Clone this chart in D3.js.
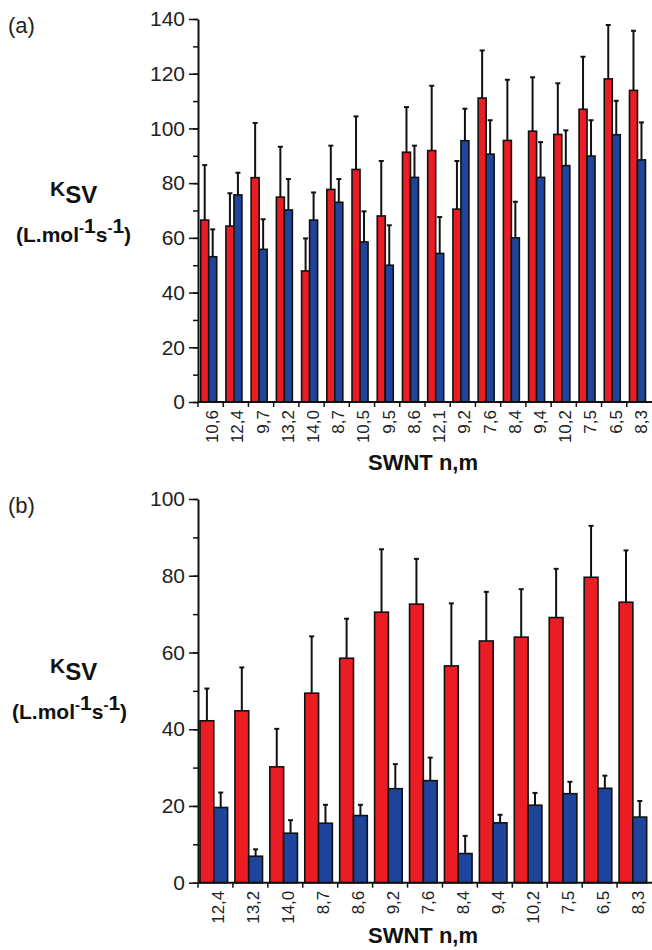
<!DOCTYPE html>
<html>
<head>
<meta charset="utf-8">
<script src="https://cdn.jsdelivr.net/npm/d3@7/dist/d3.min.js"></script>
<style>
  body { margin: 0; background: #fff; }
  svg { display: block; font-family: "Liberation Sans", Arial, sans-serif; }
  .lab { font-weight: bold; fill: #111; }
</style>
</head>
<body>
<div id="chart"></div>
<script>
/* Stern-Volmer constants per SWNT chirality, two panels */

// panel (a)
const catsA = ["10,6","12,4","9,7","13,2","14,0","8,7","10,5","9,5","8,6","12,1","9,2","7,6","8,4","9,4","10,2","7,5","6,5","8,3"];
const redA     = [66.5,64.3,82,74.9,47.9,77.7,85,68,91.3,91.9,70.5,111.1,95.6,99,97.8,107,118.1,113.9];
const redAErr  = [20.1,12,20,18.4,11.9,16,19.4,20.1,16.5,23.7,17.6,17.4,22.2,19.7,18.7,19.2,19.7,21.8];
const blueA    = [53.1,75.7,55.8,70.2,66.5,73,58.5,50,82.1,54.3,95.5,90.6,60,82.1,86.4,89.9,97.7,88.5];
const blueAErr = [10,8.1,11,11.3,10.1,8.5,11.2,14.6,11.6,13.3,11.7,12.4,13.2,12.9,12.9,13.1,12.4,13.7];

// panel (b)
const catsB = ["12,4","13,2","14,0","8,7","8,6","9,2","7,6","8,4","9,4","10,2","7,5","6,5","8,3"];
const redB     = [42.2,44.8,30.2,49.4,58.5,70.5,72.6,56.5,63,64,69.1,79.6,73.1];
const redBErr  = [8.4,11.3,9.9,14.8,10.3,16.4,11.8,16.3,12.8,12.5,12.7,13.4,13.5];
const blueB    = [19.6,6.9,12.9,15.5,17.5,24.5,26.6,7.6,15.6,20.2,23.2,24.6,17.1];
const blueBErr = [3.9,1.8,3.4,4.8,2.8,6.4,6,4.6,2.1,3.2,3.1,3.3,4.2];

const width = 652, height = 950;
const red = "#ea1c24", blue = "#1f449c";

const svg = d3.select("#chart").append("svg")
    .attr("width", width)
    .attr("height", height);

function panel(cfg) {
    const rows = cfg.cats.map((c, i) => ({
        cat: c,
        vals: [
            { key: "r", v: cfg.red[i], e: cfg.redErr[i] },
            { key: "b", v: cfg.blue[i], e: cfg.blueErr[i] }
        ]
    }));

    let x = d3.scaleBand()
        .domain(cfg.cats)
        .range([cfg.left, cfg.right])
        .padding(0);

    // red + blue side by side, shifted a bit to the left of the band
    let xi = d3.scaleBand()
        .domain(["r", "b"])
        .range([cfg.barOff, cfg.barOff + cfg.barW * 2]);

    let y = d3.scaleLinear()
        .domain([0, cfg.max])
        .range([cfg.bottom, cfg.top]);

    const g = svg.append("g");

    let grp = g.selectAll(".grp")
        .data(rows)
        .join("g")
        .attr("class", "grp")
        .attr("transform", d => `translate(${x(d.cat)},0)`);

    // error bars (upper half only)
    grp.selectAll(".err")
        .data(d => d.vals)
        .join("line")
        .attr("x1", d => xi(d.key) + xi.bandwidth() / 2)
        .attr("x2", d => xi(d.key) + xi.bandwidth() / 2)
        .attr("y1", d => y(d.v))
        .attr("y2", d => y(d.v + d.e))
        .attr("stroke", "#111")
        .attr("stroke-width", 2);

    grp.selectAll(".cap")
        .data(d => d.vals)
        .join("line")
        .attr("x1", d => xi(d.key) + xi.bandwidth() / 2 - 2.5)
        .attr("x2", d => xi(d.key) + xi.bandwidth() / 2 + 2.5)
        .attr("y1", d => y(d.v + d.e))
        .attr("y2", d => y(d.v + d.e))
        .attr("stroke", "#111")
        .attr("stroke-width", 2);

    grp.selectAll("rect")
        .data(d => d.vals)
        .join("rect")
        .attr("x", d => xi(d.key))
        .attr("width", xi.bandwidth())
        .attr("y", d => y(d.v))
        .attr("height", d => y(0) - y(d.v))
        .attr("fill", d => d.key == "r" ? red : blue)
        .attr("stroke", "#111")
        .attr("stroke-width", 1.6);

    // y axis: labelled every 20, minor ticks every 10
    g.append("g")
        .attr("transform", `translate(${cfg.left},0)`)
        .call(d3.axisLeft(y).tickValues(d3.range(0, cfg.max + 1, 10)).tickSize(5).tickFormat(""))
        .call(a => a.select(".domain").remove())
        .selectAll("line").attr("stroke", "#111").attr("stroke-width", 1.5);

    g.append("g")
        .attr("transform", `translate(${cfg.left},0)`)
        .call(d3.axisLeft(y).tickValues(d3.range(0, cfg.max + 1, 20)).tickSize(9).tickPadding(4).tickSizeOuter(0))
        .call(a => a.select(".domain").attr("stroke", "#111").attr("stroke-width", 2))
        .call(a => a.selectAll("line").attr("stroke", "#111").attr("stroke-width", 1.5))
        .selectAll("text")
        .attr("font-size", 21)
        .attr("fill", "#222");

    // x axis, ticks at the band edges
    g.append("line")
        .attr("x1", cfg.left).attr("x2", cfg.right)
        .attr("y1", y(0)).attr("y2", y(0))
        .attr("stroke", "#111").attr("stroke-width", 2);

    g.selectAll(".xt")
        .data(cfg.cats)
        .join("line")
        .attr("x1", d => x(d)).attr("x2", d => x(d))
        .attr("y1", y(0)).attr("y2", y(0) + 5)
        .attr("stroke", "#111").attr("stroke-width", 1.5);

    g.selectAll(".xl")
        .data(cfg.cats)
        .join("text")
        .attr("transform", d => `translate(${x(d) + x.bandwidth() / 2 + cfg.labShift},${y(0) + 8}) rotate(-90)`)
        .attr("text-anchor", "end")
        .attr("dominant-baseline", "central")
        .attr("font-size", 17)
        .attr("fill", "#222")
        .text(d => d);

    // titles
    g.append("text")
        .attr("x", 423)
        .attr("y", cfg.xTitleY)
        .attr("text-anchor", "middle")
        .attr("class", "lab")
        .attr("font-size", 22)
        .text("SWNT n,m");

    g.append("text")
        .attr("x", 8)
        .attr("y", cfg.top + 14)
        .attr("font-size", 22)
        .attr("fill", "#222")
        .text(cfg.tag);

    let k = g.append("text")
        .attr("class", "lab")
        .attr("x", 50)
        .attr("y", cfg.kY)
        .attr("font-size", 21);
    k.append("tspan").text("K");
    k.append("tspan").attr("font-size", 24).attr("dy", 7).text("SV");

    let u = g.append("text")
        .attr("class", "lab")
        .attr("x", cfg.uX)
        .attr("y", cfg.kY + 46)
        .attr("font-size", 21);
    u.append("tspan").text("(L.mol");
    u.append("tspan").attr("font-size", 15).attr("dy", -9).text("-");
    u.append("tspan").attr("font-size", 21).text("1");
    u.append("tspan").attr("dy", 9).text("s");
    u.append("tspan").attr("font-size", 15).attr("dy", -9).text("-");
    u.append("tspan").attr("font-size", 21).text("1");
    u.append("tspan").attr("dy", 9).text(")");
}

panel({
    cats: catsA, red: redA, redErr: redAErr, blue: blueA, blueErr: blueAErr,
    left: 198, right: 652, top: 19, bottom: 402, max: 140,
    barOff: 2.7, barW: 8, labShift: 2,
    xTitleY: 470, tag: "(a)", kY: 196, uX: 16
});

panel({
    cats: catsB, red: redB, redErr: redBErr, blue: blueB, blueErr: blueBErr,
    left: 198, right: 652, top: 499, bottom: 882.7, max: 100,
    barOff: 2, barW: 13.8, labShift: 3.5,
    xTitleY: 943, tag: "(b)", kY: 673, uX: 12
});
</script>
</body>
</html>
